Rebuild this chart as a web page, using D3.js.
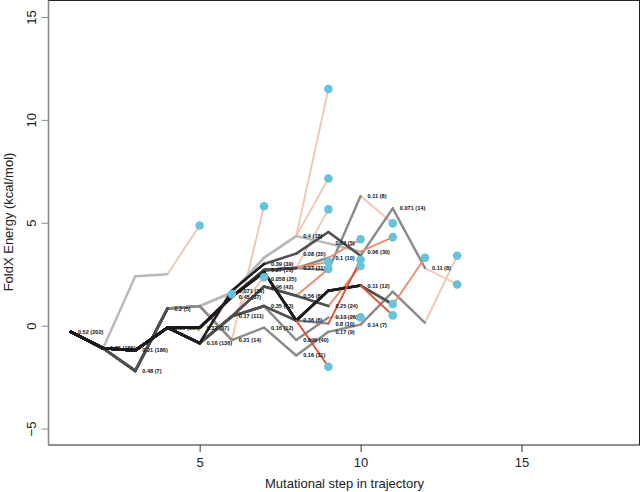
<!DOCTYPE html>
<html><head><meta charset="utf-8">
<script src="https://cdn.jsdelivr.net/npm/d3@7"></script>
<style>body{margin:0;background:#fff}svg{display:block}</style>
</head><body><svg id="c" width="642" height="492"></svg>
<script>
// ---- data ----
const xTicks = [5, 10, 15];
const yTicks = [-5, 0, 5, 10, 15];
// FoldX energy at each mutational step (step 1, 2, 3, ...)
const trajValues = [
  [-0.3,-1.1, 2.4, 2.5, 4.87],
  [-0.3,-1.1,-2.2,0.83,0.95,-0.7,5.8],
  [-0.3,-1.1,-2.2,0.83,0.95,-0.7,-0.1,-1.45,-0.3,0.05,1.65,0.14,3.4],
  [-0.3,-1.1,-2.2,0.83,0.95,1.6,3.3,4.35,11.5],
  [-0.3,-1.1,-2.2,0.83,0.95,1.6,3.3,4.35,7.15],
  [-0.3,-1.1,-2.2,0.83,0.95,1.6,3.3,4.35,4.0,3.6,4.3],
  [-0.3,-1.1,-1.2,-0.1,-0.85,1.7,3.0,3.5,4.55,3.4,5.7,2.8,2.0],
  [-0.3,-1.1,-1.2,-0.1,-0.1,1.4,2.6,0.25,1.7,1.95,1.05],
  [-0.3,-1.1,-1.2,-0.1,-0.1,1.4,2.6,0.25,1.7,1.95,0.5],
  [-0.3,-1.1,-1.2,-0.1,-0.1,1.4,2.7,2.8,3.1],
  [-0.3,-1.1,-1.2,-0.1,-0.1,1.4,2.7,2.8,3.3,4.2],
  [-0.3,-1.1,-1.2,-0.1,-0.1,1.4,2.7,2.8,5.65],
  [-0.3,-1.1,-1.2,-0.1,-0.1,1.4,2.7,2.8,2.7,6.3,4.97],
  [-0.3,-1.1,-1.2,-0.1,-0.85,0.45,1.9,1.45,0.95,2.9],
  [-0.3,-1.1,-1.2,-0.1,-0.85,0.45,1.9,1.45,2.75],
  [-0.3,-1.1,-1.2,-0.1,-0.85,0.45,0.95,0.25,0.1,3.2],
  [-0.3,-1.1,-1.2,-0.1,-0.85,0.45,0.95,0.25,-2.0],
  [-0.3,-1.1,-1.2,-0.1,-0.85,0.45,0.95,-0.7,0.4,0.4],
  [-0.3,-1.1,-1.2,-0.1,-0.85,0.45,2.35],
  [-0.3,-1.1,-1.2,-0.1,-0.85,1.53],
  [-0.3,-1.1,-1.2,-0.1,-0.1,1.4,2.6,0.25,1.7,1.95,1.0,3.3]
];
// segment shade codes: k black, d dark grey, g grey, l light grey, r red, m salmon, s pale salmon
const trajShades = [
  "klls",
  "kddggs",
  "kddggggggggs",
  "kddgllls",
  "kddgllls",
  "kddglllllm",
  "kkkkkkdddggs",
  "kkkkkkkkkd",
  "kkkkkkkkkr",
  "kkkkkddm",
  "kkkkkddgm",
  "kkkkkdds",
  "kkkkkddggs",
  "kkkkddddm",
  "kkkkdddm",
  "kkkkdddgr",
  "kkkkddgr",
  "kkkkddggs",
  "kkkkgs",
  "kkkks",
  "kkkkkkkkkgm"
];
const nodeLabels = [
  [1,-0.3,"0.52 (202)"],[2,-1.1,"0.05 (155)"],[3,-1.2,"0.21 (186)"],[3,-2.2,"0.48 (7)"],
  [4,-0.1,"0.05 (166)"],[4,0.83,"0.2 (5)"],[5,-0.85,"0.16 (136)"],[5,-0.1,"0.32 (37)"],
  [6,1.7,"0.071 (16)"],[6,1.4,"0.45 (37)"],[6,0.45,"0.17 (111)"],[6,-0.7,"0.21 (14)"],
  [7,3.0,"0.39 (39)"],[7,2.7,"0.27 (16)"],[7,2.25,"0.058 (25)"],[7,1.9,"0.96 (42)"],
  [7,0.95,"0.35 (43)"],[7,-0.1,"0.16 (12)"],
  [8,4.35,"0.4 (18)"],[8,3.5,"0.08 (35)"],[8,2.8,"0.27 (11)"],[8,1.45,"0.56 (8)"],
  [8,0.25,"0.36 (8)"],[8,-0.7,"0.096 (40)"],[8,-1.45,"0.16 (11)"],
  [9,4.0,"0.12 (5)"],[9,3.3,"0.1 (10)"],[9,0.95,"0.25 (24)"],[9,0.4,"0.13 (26)"],
  [9,0.1,"0.8 (10)"],[9,-0.3,"0.17 (9)"],
  [10,6.3,"0.11 (8)"],[10,3.6,"0.06 (30)"],[10,1.95,"0.11 (12)"],[10,0.05,"0.14 (7)"],
  [11,5.7,"0.071 (14)"],[12,2.8,"0.11 (8)"]
];
const shadeColor = {k:"#1c1c1c", d:"#4f4f4f", g:"#8a8a8a", l:"#b8b8b8", r:"#de5230", m:"#ec8e6e", s:"#f5c4b0"};
const shadeOrder = ["s","l","g","m","d","k","r"];

// ---- chart ----
const svg = d3.select("#c");
const x = d3.scaleLinear().domain([0.32, 18.68]).range([49, 640]);
const y = d3.scaleLinear().domain([-5.8, 15.8]).range([445, 0.5]);

// segments
const segs = [];
trajValues.forEach((vals, ti) => {
  for (let i = 0; i < vals.length - 1; i++) {
    segs.push({x1: i + 1, y1: vals[i], x2: i + 2, y2: vals[i + 1], c: trajShades[ti][i] || "g"});
  }
});
segs.sort((a, b) => shadeOrder.indexOf(a.c) - shadeOrder.indexOf(b.c));
svg.append("g").selectAll("line").data(segs).join("line")
  .attr("x1", d => x(d.x1)).attr("y1", d => y(d.y1))
  .attr("x2", d => x(d.x2)).attr("y2", d => y(d.y2))
  .attr("stroke", d => shadeColor[d.c])
  .attr("stroke-width", d => "rms".includes(d.c) ? 1.9 : ("kd".includes(d.c) ? 2.6 : 2.4))
  .attr("stroke-linecap", "round");

// labels
svg.append("g").selectAll("text").data(nodeLabels).join("text")
  .attr("x", d => x(d[0]) + 7).attr("y", d => y(d[1]) + 2)
  .attr("font-family", "Liberation Sans, Arial, sans-serif")
  .attr("font-size", 5.6).attr("font-weight", "bold").attr("fill", "#111")
  .text(d => d[2]);

// end points
svg.append("g").selectAll("circle").data(trajValues).join("circle")
  .attr("cx", d => x(d.length)).attr("cy", d => y(d[d.length - 1]))
  .attr("r", 4.3).attr("fill", "#66c3da");

// box
svg.append("rect").attr("x", 48.5).attr("y", 0.5).attr("width", 591).attr("height", 444.5)
  .attr("fill", "none").attr("stroke", "#222").attr("stroke-width", 1);

// axes
const font = "Liberation Sans, Arial, Helvetica, sans-serif";
const gx = svg.append("g").attr("transform", "translate(0,445)")
  .call(d3.axisBottom(x).tickValues(xTicks).tickSize(7).tickPadding(6).tickSizeOuter(0));
gx.select(".domain").remove();
gx.selectAll("line").attr("stroke", "#333");
gx.selectAll("text").attr("font-family", font).attr("font-size", 13).attr("fill", "#222");

const gy = svg.append("g").attr("transform", "translate(48.5,0)")
  .call(d3.axisLeft(y).tickValues(yTicks).tickSize(7).tickSizeOuter(0).tickFormat(d => d < 0 ? "\u2212" + Math.abs(d) : d));
gy.select(".domain").attr("stroke", "#8a8a8a").attr("stroke-width", 1.6).attr("d", "M0,0.5V445");
gy.selectAll("line").attr("stroke", "#8a8a8a");
gy.selectAll(".tick text")
  .attr("font-family", font).attr("font-size", 13).attr("fill", "#222")
  .attr("x", 0).attr("dy", 0).attr("text-anchor", "middle")
  .attr("transform", "translate(-13,0) rotate(-90)");

svg.append("text").attr("x", 344.5).attr("y", 488)
  .attr("text-anchor", "middle").attr("font-family", font).attr("font-size", 13).attr("fill", "#222")
  .text("Mutational step in trajectory");
svg.append("text").attr("transform", "translate(13,222) rotate(-90)")
  .attr("text-anchor", "middle").attr("font-family", font).attr("font-size", 13).attr("fill", "#222")
  .text("FoldX Energy (kcal/mol)");
</script></body></html>
